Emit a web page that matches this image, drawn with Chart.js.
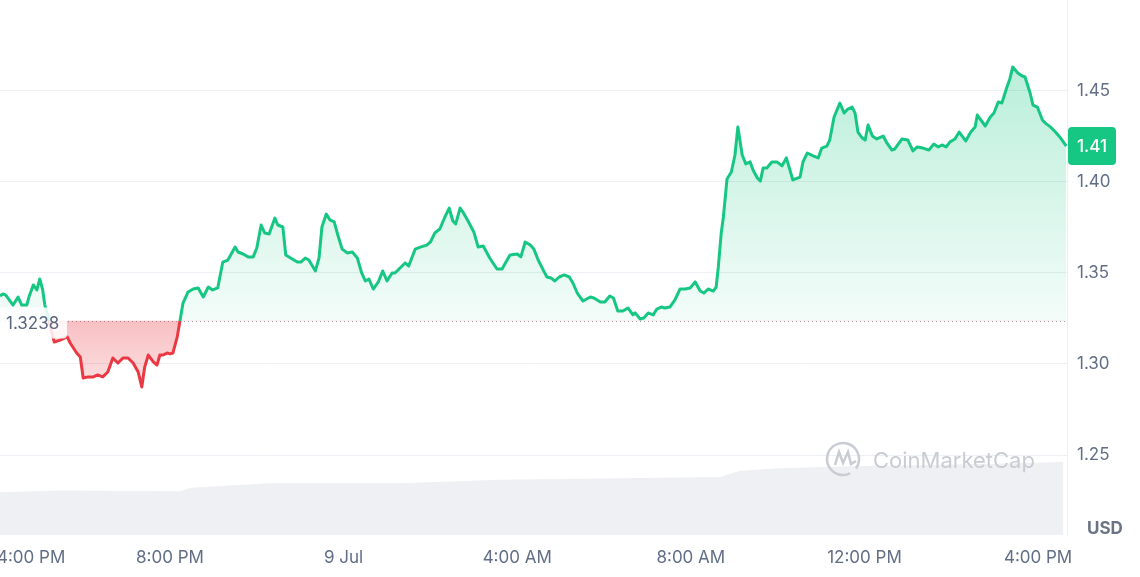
<!DOCTYPE html>
<html>
<head>
<meta charset="utf-8">
<script src="https://cdn.jsdelivr.net/npm/chart.js@4.4.1/dist/chart.umd.min.js"></script>
<style>
  html, body { margin: 0; padding: 0; background: #fff; }
  .chart-container { position: relative; width: 1140px; height: 577px; }
</style>
</head>
<body>
<div class="chart-container"><canvas id="chart"></canvas></div>
<script>
// minutes after 4:00 PM (8 Jul)
const priceMinutes = [5,9,13,19,23,30,35,42,45,51,56,60,64,67,73,80,88,98,102,111,116,120,127,134,140,147,154,161,168,175,182,189,196,201,205,210,217,222,226,230,236,240,244,250,254,258,265,272,279,286,293,299,306,313,320,330,334,341,348,355,360,366,371,377,385,389,396,400,409,416,421,427,432,441,446,450,456,461,467,472,478,485,492,499,505,510,515,521,528,534,540,547,551,558,565,570,579,586,595,600,606,613,620,626,631,635,641,645,652,660,666,673,682,692,699,706,710,720,725,731,738,743,749,756,761,767,772,778,785,792,797,803,811,821,826,835,841,848,853,859,866,873,880,883,890,895,901,908,913,919,924,931,938,945,952,959,966,973,978,984,991,995,998,1002,1005,1010,1016,1021,1025,1031,1036,1042,1046,1052,1056,1060,1065,1072,1079,1086,1092,1097,1101,1111,1115,1121,1129,1136,1141,1148,1152,1158,1166,1172,1177,1183,1187,1191,1197,1201,1205,1211,1217,1226,1231,1238,1242,1252,1260,1267,1273,1281,1289,1296,1302,1307,1313,1318,1325,1331,1340,1347,1353,1356,1367,1374,1379,1385,1390,1397,1401,1405,1412,1418,1422,1429,1433,1439,1446,1450,1457,1464,1470,1479];
const priceValues = [1.3373,1.3384,1.3378,1.3345,1.3323,1.3367,1.3323,1.3323,1.3367,1.3433,1.3406,1.3466,1.3406,1.3323,1.3230,1.3120,1.3131,1.3148,1.3115,1.3060,1.3038,1.2923,1.2929,1.2929,1.2940,1.2929,1.2956,1.3033,1.3005,1.3033,1.3033,1.3005,1.2956,1.2874,1.2983,1.3049,1.3011,1.2994,1.3049,1.3049,1.3060,1.3055,1.3060,1.3148,1.3241,1.3334,1.3395,1.3411,1.3417,1.3367,1.3422,1.3406,1.3417,1.3559,1.3570,1.3641,1.3614,1.3603,1.3587,1.3587,1.3636,1.3762,1.3718,1.3713,1.3800,1.3762,1.3751,1.3598,1.3576,1.3559,1.3559,1.3581,1.3570,1.3510,1.3581,1.3751,1.3822,1.3790,1.3779,1.3707,1.3630,1.3609,1.3614,1.3581,1.3499,1.3455,1.3466,1.3411,1.3450,1.3510,1.3455,1.3499,1.3499,1.3526,1.3554,1.3537,1.3630,1.3641,1.3652,1.3669,1.3718,1.3740,1.3806,1.3855,1.3784,1.3768,1.3855,1.3833,1.3784,1.3724,1.3641,1.3647,1.3581,1.3521,1.3521,1.3570,1.3598,1.3603,1.3587,1.3669,1.3652,1.3630,1.3570,1.3515,1.3477,1.3471,1.3455,1.3477,1.3488,1.3477,1.3444,1.3389,1.3345,1.3367,1.3362,1.3340,1.3340,1.3373,1.3362,1.3290,1.3290,1.3307,1.3269,1.3280,1.3247,1.3252,1.3280,1.3269,1.3301,1.3312,1.3307,1.3312,1.3351,1.3411,1.3411,1.3417,1.3450,1.3400,1.3389,1.3411,1.3400,1.3422,1.3532,1.3718,1.3806,1.4014,1.4053,1.4146,1.4300,1.4146,1.4097,1.4108,1.4064,1.4020,1.4003,1.4075,1.4075,1.4108,1.4108,1.4086,1.4130,1.4064,1.4009,1.4025,1.4108,1.4157,1.4141,1.4130,1.4184,1.4195,1.4228,1.4354,1.4431,1.4376,1.4398,1.4409,1.4376,1.4272,1.4239,1.4228,1.4310,1.4250,1.4234,1.4250,1.4212,1.4173,1.4179,1.4234,1.4228,1.4168,1.4190,1.4184,1.4173,1.4206,1.4190,1.4201,1.4190,1.4217,1.4234,1.4272,1.4223,1.4272,1.4300,1.4365,1.4305,1.4354,1.4376,1.4437,1.4431,1.4519,1.4563,1.4629,1.4596,1.4579,1.4574,1.4486,1.4420,1.4409,1.4338,1.4321,1.4300,1.4272,1.4245,1.4195];
const volumeMinutes = [5,88,254,268,378,558,696,1000,1028,1083,1180,1388,1475];
const volumeValues = [48,50,49,53,58,58,62,65,72,75,77,80,82]; // 24h vol, $M
const openPrice = 1.3238;
const xTickMinutes = [0,240,480,720,960,1200,1440];
const xTickLabels = ["4:00 PM","8:00 PM","9 Jul","4:00 AM","8:00 AM","12:00 PM","4:00 PM"];
const yTickValues = [1.25,1.30,1.35,1.40,1.45];

const GREEN = "#16c784";
const RED = "#ea3943";
const textColor = "#616e85";
const gridColor = "#eceff3";

function lineColor(ctx) {
  const chart = ctx.chart;
  const area = chart.chartArea;
  if (!area) return GREEN;
  const base = chart.scales.y.getPixelForValue(openPrice);
  let stop = (base - area.top) / (area.bottom - area.top);
  stop = Math.min(Math.max(stop, 0), 1);
  const g = chart.ctx.createLinearGradient(0, area.top, 0, area.bottom);
  g.addColorStop(0, GREEN);
  g.addColorStop(stop, GREEN);
  g.addColorStop(stop, RED);
  g.addColorStop(1, RED);
  return g;
}

function priceFill(ctx) {
  const chart = ctx.chart;
  const area = chart.chartArea;
  if (!area) return { value: openPrice, above: "rgba(22,199,132,0.15)", below: "rgba(234,57,67,0.25)" };
  const base = chart.scales.y.getPixelForValue(openPrice);
  const up = chart.ctx.createLinearGradient(0, area.top, 0, base);
  up.addColorStop(0, "rgba(22,199,132,0.36)");
  up.addColorStop(1, "rgba(22,199,132,0.05)");
  const down = chart.ctx.createLinearGradient(0, base, 0, chart.scales.y.getPixelForValue(1.285));
  down.addColorStop(0, "rgba(234,57,67,0.32)");
  down.addColorStop(1, "rgba(234,57,67,0.14)");
  return { value: openPrice, above: up, below: down };
}

const overlay = {
  id: "overlay",
  beforeDatasetsDraw(chart) {
    const { ctx, chartArea } = chart;
    const y = Math.round(chart.scales.y.getPixelForValue(openPrice)) + 0.5;
    ctx.save();
    ctx.strokeStyle = "#9aa1b1";
    ctx.lineWidth = 1;
    ctx.setLineDash([1, 3]);
    ctx.beginPath();
    ctx.moveTo(chartArea.left, y);
    ctx.lineTo(chartArea.right - 2, y);
    ctx.stroke();
    ctx.restore();
  },
  afterDatasetsDraw(chart) {
    const { ctx } = chart;
    const y = chart.scales.y.getPixelForValue(openPrice);
    ctx.save();
    // open price label
    ctx.fillStyle = "rgba(255,255,255,0.85)";
    ctx.beginPath();
    ctx.roundRect(-4, y - 13, 71, 31, 4);
    ctx.fill();
    ctx.fillStyle = "#58667e";
    ctx.font = "17px Inter, sans-serif";
    ctx.textBaseline = "middle";
    ctx.textAlign = "left";
    ctx.fillText(openPrice.toFixed(4), 6, y + 3);

    // watermark
    ctx.strokeStyle = "#c9ccd3";
    ctx.fillStyle = "#c9ccd3";
    ctx.lineWidth = 2.5;
    const cx = 843, cy = 459;
    ctx.beginPath();
    ctx.arc(cx, cy, 16, 0.35 * Math.PI, 2.2 * Math.PI);
    ctx.stroke();
    ctx.beginPath();
    ctx.moveTo(cx - 8, cy + 6);
    ctx.lineTo(cx - 4, cy - 7);
    ctx.lineTo(cx, cy + 4);
    ctx.lineTo(cx + 5, cy - 7);
    ctx.lineTo(cx + 8, cy + 5);
    ctx.lineTo(cx + 13, cy + 2);
    ctx.stroke();
    ctx.font = "22px Inter, sans-serif";
    ctx.fillText("CoinMarketCap", 873, 461);
    ctx.restore();
  },
  afterDraw(chart) {
    const { ctx } = chart;
    const last = priceValues[priceValues.length - 1];
    const y = chart.scales.y.getPixelForValue(last);
    ctx.save();
    ctx.fillStyle = GREEN;
    ctx.beginPath();
    ctx.roundRect(1068, y - 19, 48, 38, 4);
    ctx.fill();
    ctx.fillStyle = "#fff";
    ctx.font = "500 17px Inter, sans-serif";
    ctx.textAlign = "center";
    ctx.textBaseline = "middle";
    ctx.fillText((Math.floor(last * 100) / 100).toFixed(2), 1092, y + 1);

    ctx.fillStyle = "#6b7385";
    ctx.font = "bold 17px Inter, sans-serif";
    ctx.textAlign = "left";
    ctx.fillText("USD", 1087, 529);
    ctx.restore();
  }
};

new Chart(document.getElementById("chart"), {
  type: "line",
  data: {
    datasets: [
      {
        label: "Price",
        data: priceMinutes.map((m, i) => ({ x: m, y: priceValues[i] })),
        yAxisID: "y",
        borderColor: lineColor,
        borderWidth: 3,
        borderJoinStyle: "round",
        pointRadius: 0,
        tension: 0,
        fill: priceFill,
        order: 1,
      },
      {
        label: "Volume",
        data: volumeMinutes.map((m, i) => ({ x: m, y: volumeValues[i] })),
        yAxisID: "yVol",
        borderWidth: 0,
        pointRadius: 0,
        backgroundColor: "#eef0f3",
        fill: "origin",
        tension: 0,
        order: 2,
      },
    ],
  },
  options: {
    responsive: true,
    maintainAspectRatio: false,
    animation: false,
    layout: { padding: 0 },
    plugins: {
      legend: { display: false },
      tooltip: { enabled: false },
    },
    scales: {
      x: {
        type: "linear",
        min: 5,
        max: 1480,
        grid: { display: false, drawTicks: false },
        border: { display: false },
        afterBuildTicks: (axis) => {
          axis.ticks = xTickMinutes.map((m) => ({ value: Math.max(m, axis.min + 43) }));
        },
        afterFit: (axis) => {
          axis.height = 42;
          axis.paddingLeft = 0;
          axis.paddingRight = 0;
        },
        ticks: {
          autoSkip: false,
          maxRotation: 0,
          padding: 13,
          color: textColor,
          font: { size: 17, family: "Inter, sans-serif" },
          callback: (value, index) => xTickLabels[index],
        },
      },
      y: {
        position: "right",
        min: 1.2062,
        max: 1.4996,
        grid: { color: gridColor, drawTicks: false },
        border: { display: true, color: gridColor },
        afterBuildTicks: (axis) => {
          axis.ticks = yTickValues.map((v) => ({ value: v }));
        },
        afterFit: (axis) => {
          axis.width = 73;
          axis.paddingTop = 0;
          axis.paddingBottom = 0;
        },
        ticks: {
          padding: 10,
          color: textColor,
          font: { size: 17, family: "Inter, sans-serif" },
          callback: (value) => value.toFixed(2),
        },
      },
      yVol: {
        display: false,
        min: 0,
        max: 600,
      },
    },
  },
  plugins: [overlay],
});
</script>
</body>
</html>
